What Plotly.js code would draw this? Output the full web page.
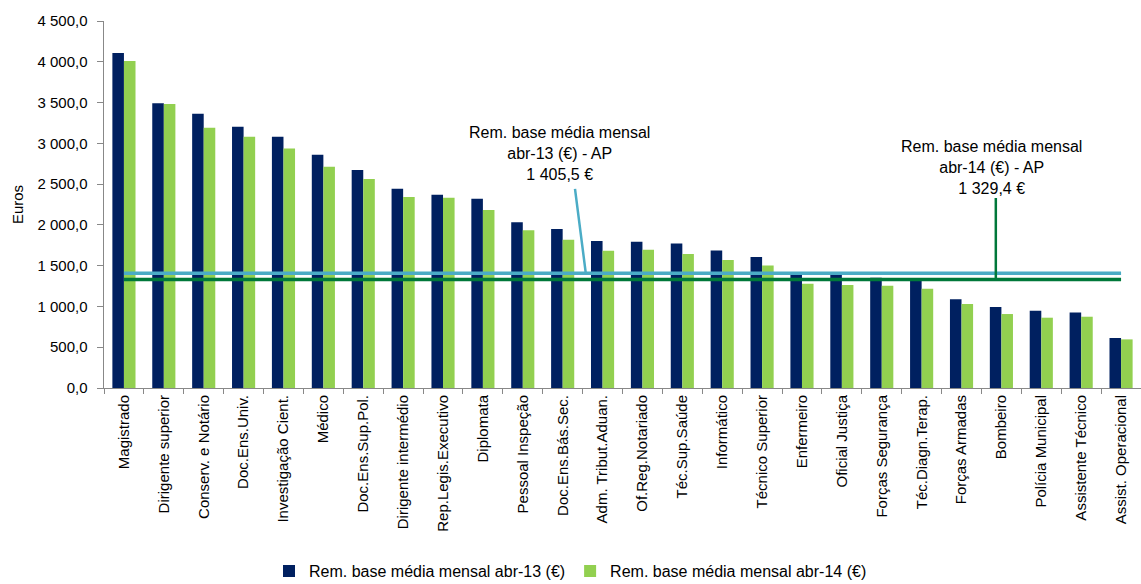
<!DOCTYPE html>
<html>
<head>
<meta charset="utf-8">
<script src="https://cdn.plot.ly/plotly-3.0.1.min.js"></script>
<style>html,body{margin:0;padding:0;background:#fff;}#chart{width:1141px;height:584px;}</style>
</head>
<body>
<div id="chart"></div>
<script>
const categories = ["Magistrado","Dirigente superior","Conserv. e Notário","Doc.Ens.Univ.","Investigação Cient.","Médico","Doc.Ens.Sup.Pol.","Dirigente intermédio","Rep.Legis.Executivo","Diplomata","Pessoal Inspeção","Doc.Ens.Bás.Sec.","Adm. Tribut.Aduan.","Of.Reg.Notariado","Téc.Sup.Saúde","Informático","Técnico Superior","Enfermeiro","Oficial Justiça","Forças Segurança","Téc.Diagn.Terap.","Forças Armadas","Bombeiro","Polícia Municipal","Assistente Técnico","Assist. Operacional"];
const remAbr13 = [4107,3490,3363,3204,3081,2861,2673,2444,2370,2321,2031,1949,1802,1794,1773,1687,1606,1395,1390,1352,1325,1087,993,948,927,613];
const remAbr14 = [4009,3482,3192,3081,2938,2714,2562,2342,2333,2182,1933,1818,1683,1696,1643,1569,1503,1279,1263,1254,1218,1030,907,862,874,596];
const mediaAbr13 = 1405.5;
const mediaAbr14 = 1329.4;
const seriesNames = ["Rem. base média mensal abr-13 (€)","Rem. base média mensal abr-14 (€)"];
const yTicks = [0,500,1000,1500,2000,2500,3000,3500,4000,4500];

const navy = "#002060", lime = "#92D050", lightBlue = "#4BACC6", darkGreen = "#00783A";
const font = "Liberation Sans, Arial, sans-serif";

const first = categories[0], last = categories[categories.length-1];

const traces = [
  {type:"bar", x:categories, y:remAbr13, name:seriesNames[0], marker:{color:navy}},
  {type:"bar", x:categories, y:remAbr14, name:seriesNames[1], marker:{color:lime}},
  {type:"scatter", mode:"lines", x:[first,last], y:[mediaAbr13,mediaAbr13], line:{color:lightBlue,width:3.5}, showlegend:false, hoverinfo:"skip"},
  {type:"scatter", mode:"lines", x:[first,last], y:[mediaAbr14,mediaAbr14], line:{color:darkGreen,width:3.5}, showlegend:false, hoverinfo:"skip"}
];

function fmt(v){ return v.toFixed(1).replace(".",",").replace(/\B(?=(\d{3})+(?!\d))/g," "); }

const layout = {
  width:1141, height:584,
  margin:{l:104, r:0, t:21, b:196},
  paper_bgcolor:"#fff", plot_bgcolor:"#fff",
  font:{family:font, color:"#000", size:15},
  barmode:"group", bargap:0.42, bargroupgap:0,
  showlegend:true,
  legend:{orientation:"h", xref:"container", yref:"container", x:0.5, xanchor:"center", y:0.022, yanchor:"middle", font:{size:16}, itemwidth:30, traceorder:"normal"},
  xaxis:{type:"category", tickangle:-90, showline:true, linecolor:"#888", linewidth:1, ticks:"outside", tickson:"boundaries", ticklen:5, tickcolor:"#888", showgrid:false, tickfont:{size:15}, range:[-0.5,25.5]},
  yaxis:{range:[0,4500], tickvals:yTicks, ticktext:yTicks.map(fmt), showline:true, linecolor:"#888", linewidth:1.5, ticks:"outside", ticklen:6, tickcolor:"#888", showgrid:false, zeroline:false, tickfont:{size:15}, ticklabelstandoff:6, title:{text:"Euros", font:{size:15}, standoff:10}},
  annotations:[
    {xref:"x", yref:"y", x:10.93, y:2873, showarrow:false, text:"Rem. base média mensal<br>abr-13 (€) - AP<br>"+fmt(mediaAbr13)+" €", font:{size:16}, align:"center"},
    {xref:"x", yref:"y", x:21.76, y:2700, showarrow:false, text:"Rem. base média mensal<br>abr-14 (€) - AP<br>"+fmt(mediaAbr14)+" €", font:{size:16}, align:"center"},
    {xref:"x", yref:"y", x:11.58, y:mediaAbr13, text:"", showarrow:true, arrowhead:0, arrowwidth:2.5, arrowcolor:lightBlue, ax:-11, ay:-86, standoff:0, startstandoff:0},
    {xref:"x", yref:"y", x:21.86, y:mediaAbr14, text:"", showarrow:true, arrowhead:0, arrowwidth:2.5, arrowcolor:darkGreen, ax:0, ay:-83, standoff:0, startstandoff:0}
  ]
};

Plotly.newPlot("chart", traces, layout, {displayModeBar:false, staticPlot:true});
</script>
</body>
</html>
